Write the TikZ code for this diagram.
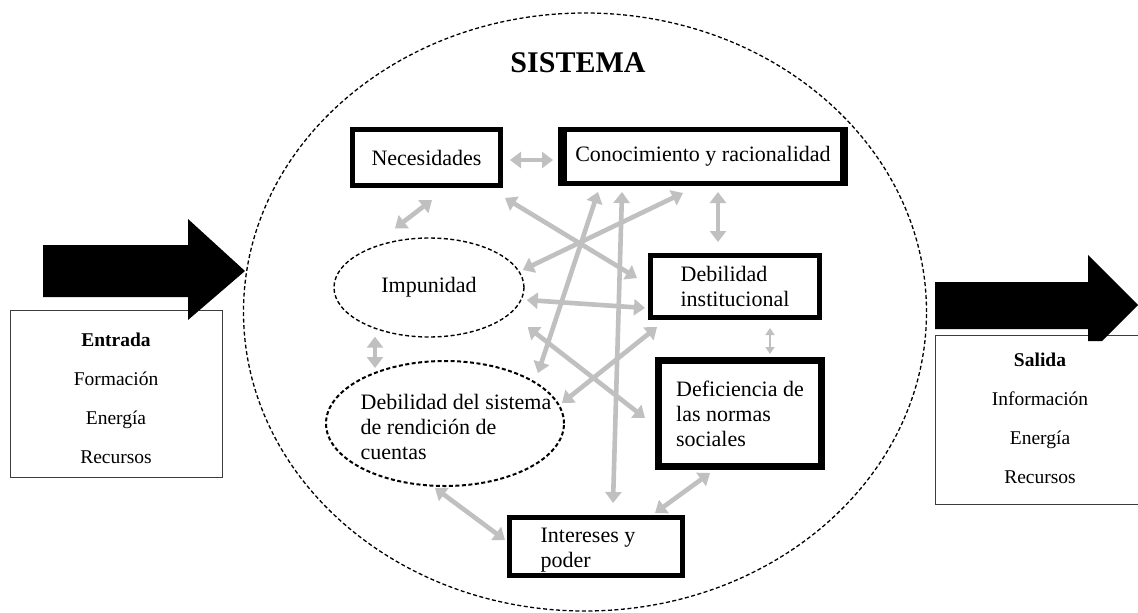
\documentclass[tikz,border=0pt]{standalone}
\usepackage{fontspec}
\setmainfont{Liberation Serif}
\usetikzlibrary{arrows.meta,calc,shapes.geometric}
\definecolor{arrgray}{RGB}{192,192,192}
\definecolor{sidegray}{RGB}{60,60,60}
\begin{document}
\begin{tikzpicture}[x=1pt,y=-1pt,
  txt/.style={font=\fontsize{22}{25}\selectfont, inner sep=0pt},
  bx/.style={draw=black, fill=white, rectangle, inner sep=0pt, txt},
  dashell/.style={draw=black, ellipse, inner sep=0pt, txt, dash pattern=on 4pt off 2.5pt},
  sidebox/.style={draw=sidegray, line width=1.3pt, fill=white, rectangle, inner sep=0pt},
  sidetxt/.style={font=\fontsize{19.5}{39}\selectfont, align=center, inner sep=0pt},
  link/.style={draw=arrgray, line width=4.6pt, {Triangle[length=11pt,width=16pt]}-{Triangle[length=11pt,width=16pt]}},
  thinlink/.style={draw=arrgray, line width=2.2pt, {Triangle[length=7pt,width=9pt]}-{Triangle[length=7pt,width=9pt]}},
  bigarrow/.style={fill=black}
]
\clip (0,0) rectangle (1138,613);
\fill[white] (0,0) rectangle (1138,613);

% system ellipse and title
\node[draw=black, ellipse, line width=1.3pt, dash pattern=on 4pt off 2.5pt,
      minimum width=683pt, minimum height=598pt, inner sep=0pt] (sys) at (585,312) {};
\node[font=\fontsize{30}{34}\selectfont\bfseries, inner sep=0pt] (title) at (578,63) {SISTEMA};

% input side
\node[sidebox, minimum width=212pt, minimum height=167pt] (ent) at (116.5,394) {};
\node[sidetxt] (entt) at (116,398) {\textbf{Entrada}\\Formación\\Energía\\Recursos};
\fill[bigarrow] (43,245) -- (188,245) -- (188,219) -- (245,271) -- (188,320) -- (188,297) -- (43,297) -- cycle;

% output side
\node[sidebox, minimum width=214pt, minimum height=169pt] (sal) at (1042.5,420) {};
\node[sidetxt] (salt) at (1040,418.5) {\textbf{Salida}\\Información\\Energía\\Recursos};
\fill[bigarrow] (935,282) -- (1088,282) -- (1088,255) -- (1138,305) -- (1102,341) -- (1088,341) -- (1088,329) -- (935,329) -- cycle;

% inner elements
\node[bx, line width=5pt, minimum width=148pt, minimum height=56pt] (nec) at (426.5,157.5) {Necesidades};
\node[bx, line width=5pt, minimum width=285pt, minimum height=54pt] (con) at (703,156.5) {Conocimiento y racionalidad};
\draw[line width=9pt] ($(con.north west)+(4.5,0)$) -- ($(con.south west)+(4.5,0)$);
\draw[line width=8pt] ($(con.north east)+(-4,0)$) -- ($(con.south east)+(-4,0)$);
\node[bx, line width=5pt, minimum width=169pt, minimum height=62pt, align=left] (dinst) at (735,286.5) {Debilidad\\institucional};
\node[bx, line width=7pt, minimum width=163pt, minimum height=106pt, align=left] (def) at (740,413.5) {Deficiencia de\\las normas\\sociales};
\node[bx, line width=5pt, minimum width=173pt, minimum height=58pt] (int) at (596,546.5) {};
\node[txt, align=left] (intt) at (588,550) {Intereses y\\poder};
\node[dashell, line width=1.4pt, minimum width=190pt, minimum height=99pt] (imp) at (429,287.5) {Impunidad};
\node[dashell, line width=2pt, minimum width=238pt, minimum height=125pt] (dsis) at (445,423.5) {};
\node[txt, align=left] (dsist) at (456,427) {Debilidad del sistema\\de rendición de\\cuentas};

% connectors
\draw[link] ($(nec.east)+(7,2.5)$) -- ($(con.west)+(-5,3.5)$);
\draw[link] ($(nec.south)+(5.5,12)$) -- ($(imp.north)+(-34,-9)$);
\draw[link] ($(nec.south east)+(2,10)$) -- ($(dinst.west)+(-11,-8.5)$);
\draw[link] ($(con.south)+(-20,7)$) -- ($(imp.east)+(-2,-17.5)$);
\draw[link] ($(con.south)+(15,6)$) -- ($(dinst.north)+(-17,-11)$);
\draw[link] ($(con.south)+(-105,6)$) -- ($(dsis.north)+(93,13)$);
\draw[link] ($(con.south)+(-81,6)$) -- ($(int.north)+(17,-12)$);
\draw[link] ($(imp.east)+(2,12.5)$) -- ($(dinst.west)+(-3,21.5)$);
\draw[link] ($(imp.south)+(-54,-1)$) -- ($(dsis.north)+(-70,8)$);
\draw[link] ($(dinst.south west)+(9,7)$) -- ($(dsis.east)+(-3,-20.5)$);
\draw[link] ($(imp.east)+(3,39.5)$) -- ($(def.west)+(-10,4.5)$);
\draw[thinlink] ($(dinst.south)+(35,8)$) -- ($(def.north)+(30,-3)$);
\draw[link] ($(dsis.south)+(-10,1)$) -- ($(int.west)+(-2,-6.5)$);
\draw[link] ($(def.south)+(-30,3)$) -- ($(int.north)+(59,-2)$);
\end{tikzpicture}
\end{document}
